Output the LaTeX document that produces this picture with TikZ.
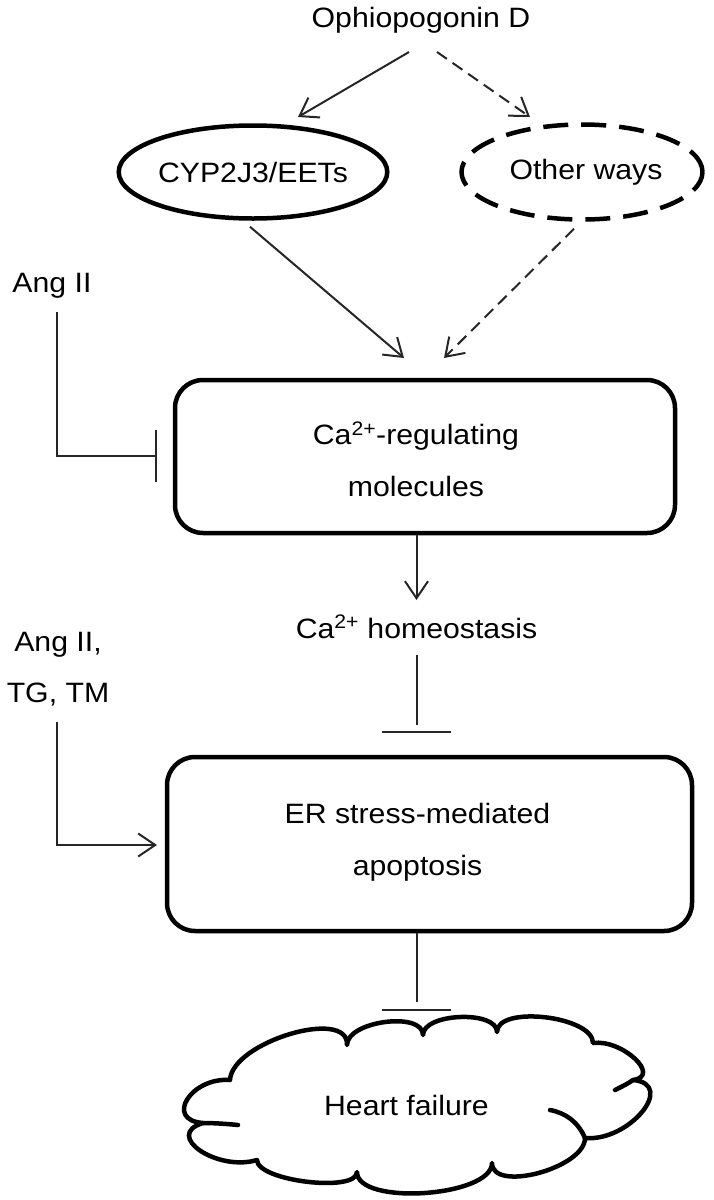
\documentclass[tikz,border=0pt]{standalone}
\usepackage{fontspec}
\setmainfont{Liberation Sans}[FakeStretch=1.08]
\usetikzlibrary{shapes.geometric,arrows.meta}
\begin{document}
\begin{tikzpicture}[x=1pt,y=-1pt,
  lbl/.style={font=\fontsize{28}{52}\selectfont, inner sep=0pt, align=center},
  conn/.style={line width=2pt, draw=black!85},
  arr/.style={conn, -{Straight Barb[length=17pt,width=23pt]}},
  dashconn/.style={dash pattern=on 12pt off 7pt},
  ell/.style={lbl, ellipse, draw, line width=4.5pt},
  roundbox/.style={draw, line width=4.5pt, rounded corners=28pt, inner sep=0pt},
  blockbar/.style={line width=2.5pt, draw=black!85},
  cloudline/.style={line width=4.5pt, line join=round, line cap=round},
]
\fill[white] (0,0) rectangle (714,1200);
\useasboundingbox (0,0) rectangle (714,1200);

% nodes
\node[lbl, anchor=base] (oph) at (421,27) {Ophiopogonin D};
\node[ell, minimum width=237pt, minimum height=93pt] (cyp) at (253,172) {CYP2J3/EETs};
\node[ell, minimum width=241pt, minimum height=95pt, dash pattern=on 25pt off 13pt] (oth) at (582,172) {\hspace*{8pt}Other ways};
\node[lbl, anchor=base] (ang1) at (52,292) {Ang II};
\node[roundbox, minimum width=500pt, minimum height=153pt] (ca) at (425,456.5) {};
\node[lbl] (cat) at (416,459) {Ca\textsuperscript{2+}-regulating\\molecules};
\node[lbl, anchor=base] (homeo) at (416.5,638) {Ca\textsuperscript{2+} homeostasis};
\node[lbl, font=\fontsize{28}{51}\selectfont] (ang2) at (58,669) {Ang II,\\TG, TM};
\node[roundbox, minimum width=525pt, minimum height=174pt] (er) at (429.5,844) {};
\node[lbl] (ert) at (417.5,842) {ER stress-mediated\\apoptosis};

% cloud
\draw[cloudline] (230,1080)
 .. controls (232,1042) and (349,1007) .. (347,1045)
 .. controls (347,1021) and (423,1011) .. (423,1035)
 .. controls (423,1013) and (497,1010) .. (497,1032)
 .. controls (497,1005) and (593,1016) .. (593,1043)
 .. controls (622,1039) and (662,1076) .. (633,1080)
 .. controls (677,1084) and (629,1142) .. (585,1138)
 .. controls (585,1168) and (492,1193) .. (492,1163)
 .. controls (492,1197) and (357,1206) .. (357,1172)
 .. controls (357,1193) and (257,1181) .. (257,1160)
 .. controls (217,1172) and (163,1135) .. (203,1123)
 .. controls (164,1120) and (191,1077) .. (230,1080) -- cycle;
\draw[cloudline] (203,1123) .. controls (215,1123) and (228,1124) .. (238,1125);
\draw[cloudline] (633,1080) .. controls (627,1084) .. (615,1090);
\draw[cloudline] (585,1138) .. controls (578,1122) and (566,1113) .. (550,1110);
\node[lbl, anchor=base] (hf) at (406.5,1115) {Heart failure};

% free ends
\coordinate (t1) at (298,117);
\coordinate (t2) at (530,117);
\coordinate (t3) at (404,358);
\coordinate (t4) at (444,358);
\coordinate (t5) at (416.5,600);
\coordinate (t6) at (157,845);
\coordinate (b1) at (157,456);
\coordinate (b2) at (416.5,732);
\coordinate (b3) at (416.5,1010);

% connectors
\draw[arr] ([shift={(-12,25)}]oph.base) -- (t1);
\draw[arr, dashconn] ([shift={(16,25)}]oph.base) -- (t2);
\draw[arr] ([shift={(-3,6)}]cyp.south) -- (t3);
\draw[arr, dashconn] ([shift={(-8,7)}]oth.south) -- (t4);
\draw[conn, -{Bar[width=52pt,line width=2.5pt]}] ([shift={(5,20)}]ang1.base) |- (b1);
\draw[arr] (ca.south -| t5) -- (t5);
\draw[conn] ([shift={(0,17)}]homeo.base) -- ([yshift=7pt]b2);
\draw[blockbar] ([xshift=-34.5pt]b2) -- ([xshift=34.5pt]b2);
\draw[arr] ([shift={(-1,16)}]ang2.south) |- (t6);
\draw[conn] (er.south -| b3) -- ([yshift=8pt]b3);
\draw[blockbar] ([xshift=-34.5pt]b3) -- ([xshift=34.5pt]b3);
\end{tikzpicture}
\end{document}
